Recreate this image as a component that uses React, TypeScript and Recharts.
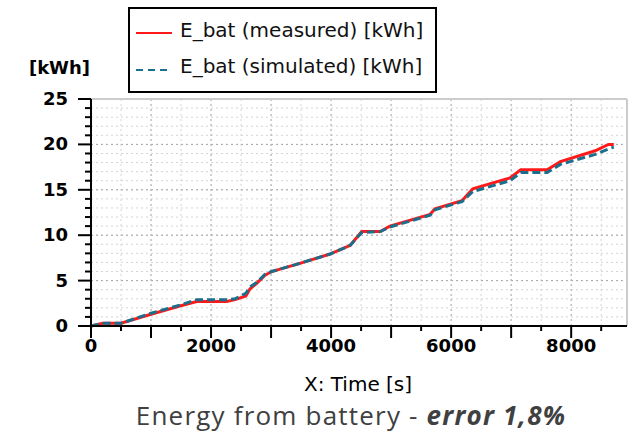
import { LineChart, Line, XAxis, YAxis, CartesianGrid, ReferenceLine, Legend } from 'recharts'

// time [s]
const time = [0, 200, 500, 1000, 1480, 1760, 2260, 2400, 2580, 2650, 2760, 2900, 3010, 3480, 3970, 4260, 4320, 4510, 4820, 4980, 5650, 5730, 6180, 6360, 6980, 7160, 7600, 7820, 8400, 8620, 8710]
// E_bat measured [kWh]
const measured = [0, 0.3, 0.3, 1.3, 2.2, 2.7, 2.7, 2.9, 3.3, 4.1, 4.7, 5.6, 6.0, 6.9, 7.9, 8.7, 8.9, 10.4, 10.4, 11.0, 12.3, 12.9, 13.8, 15.1, 16.3, 17.2, 17.2, 18.1, 19.3, 20.0, 20.0]
// E_bat simulated [kWh]
const simulated = [0, 0.3, 0.3, 1.4, 2.3, 2.9, 2.9, 3.0, 3.6, 4.3, 4.8, 5.7, 6.0, 6.9, 7.9, 8.7, 8.9, 10.3, 10.4, 10.9, 12.2, 12.8, 13.7, 14.8, 16.0, 16.9, 16.9, 17.8, 18.9, 19.5, 19.7]

const xTicks = [0, 500, 1000, 1500, 2000, 2500, 3000, 3500, 4000, 4500, 5000, 5500, 6000, 6500, 7000, 7500, 8000, 8500]
const xMajor = [1000, 2000, 3000, 4000, 5000, 6000, 7000, 8000]
const yTicks = [0, 1, 2, 3, 4, 5, 6, 7, 8, 9, 10, 11, 12, 13, 14, 15, 16, 17, 18, 19, 20, 21, 22, 23, 24, 25]
const yMajor = [5, 10, 15, 20]
const X_MAX = 8930

const RED = '#ff1a1a'
const BLUE = '#1b6e8c'
const FONT = '"DejaVu Sans", sans-serif'

const chartData = time.map((t, i) => ({
  t,
  measured: measured[i],
  simulated: simulated[i]
}))

function XTick(props: any) {
  const { x, y, payload } = props
  const v = payload.value
  const major = v % 1000 === 0
  return (
    <g>
      <line x1={x} x2={x} y1={v === 0 ? y - 5 : y} y2={y + (major ? 12 : 5)} stroke="#000" strokeWidth={2} />
      {v % 2000 === 0 && (
        <text x={x} y={y + 26} textAnchor="middle" fontFamily={FONT} fontWeight="bold" fontSize={18} fill="#000">
          {v}
        </text>
      )}
    </g>
  )
}

function YTick(props: any) {
  const { x, y, payload } = props
  const v = payload.value
  const major = v % 5 === 0
  return (
    <g>
      <line x1={x - (major ? 13 : 6)} x2={x} y1={y} y2={y} stroke="#000" strokeWidth={2} />
      {major && (
        <text x={x - 23} y={y + 6} textAnchor="end" fontFamily={FONT} fontWeight="bold" fontSize={18} fill="#000">
          {v}
        </text>
      )}
    </g>
  )
}

function LegendBox() {
  return (
    <div style={{ position: 'relative', width: 305, height: 82, border: '2px solid #000', background: '#fff', fontFamily: FONT, fontSize: 20, color: '#111' }}>
      <svg width={50} height={82} style={{ position: 'absolute', left: 0, top: 0 }}>
        <line x1={6} x2={42} y1={24} y2={24} stroke={RED} strokeWidth={2} />
        <line x1={6} x2={42} y1={61} y2={61} stroke={BLUE} strokeWidth={2} strokeDasharray="7 5" />
      </svg>
      <div style={{ position: 'absolute', left: 50, top: 9, whiteSpace: 'nowrap' }}>E_bat (measured) [kWh]</div>
      <div style={{ position: 'absolute', left: 50, top: 45, whiteSpace: 'nowrap' }}>E_bat (simulated) [kWh]</div>
    </div>
  )
}

export default function App() {
  return (
    <div style={{ position: 'absolute', left: 0, top: 0, width: 636, height: 434, background: '#fff' }}>
      <LineChart width={636} height={434} data={chartData} margin={{ top: 99, right: 9, left: 0, bottom: 78 }}>
        <CartesianGrid stroke="#d4d4d4" strokeDasharray="2 3" />
        {yMajor.map((v) => (
          <ReferenceLine key={'y' + v} y={v} stroke="#a8a8a8" strokeDasharray="2 3" />
        ))}
        {xMajor.map((v) => (
          <ReferenceLine key={'x' + v} x={v} stroke="#b4b4b4" strokeDasharray="2 3" />
        ))}
        <ReferenceLine y={25} stroke="#cccccc" strokeWidth={2} />
        <ReferenceLine x={X_MAX} stroke="#cccccc" strokeWidth={2} />
        <XAxis
          type="number"
          dataKey="t"
          domain={[0, X_MAX]}
          ticks={xTicks}
          interval={0}
          tickSize={0}
          tickMargin={0}
          tick={<XTick />}
          height={30}
          axisLine={{ stroke: '#000', strokeWidth: 2 }}
        />
        <YAxis
          type="number"
          domain={[0, 25]}
          ticks={yTicks}
          interval={0}
          tickSize={0}
          tickMargin={0}
          tick={<YTick />}
          width={91}
          axisLine={{ stroke: '#000', strokeWidth: 2 }}
        />
        <Legend
          layout="horizontal"
          verticalAlign="middle"
          align="center"
          width={309}
          height={86}
          wrapperStyle={{ left: 128, top: 7 }}
          content={<LegendBox />}
        />
        <Line type="linear" dataKey="measured" stroke={RED} strokeWidth={3} dot={false} isAnimationActive={false} />
        <Line type="linear" dataKey="simulated" stroke={BLUE} strokeWidth={3} strokeDasharray="8 4" dot={false} isAnimationActive={false} />
        <text x={90} y={74} textAnchor="end" fontFamily={FONT} fontWeight="bold" fontSize={18} fill="#000">[kWh]</text>
        <text x={358} y={391} textAnchor="middle" fontFamily={FONT} fontSize={20} fill="#000">X: Time [s]</text>
        <text x={351} y={425} textAnchor="middle" fontFamily='"Open Sans", sans-serif' fontSize={26} letterSpacing={1.2} fill="#404040">
          Energy from battery - <tspan fontWeight="bold" fontStyle="italic">error 1,8%</tspan>
        </text>
      </LineChart>
    </div>
  )
}
